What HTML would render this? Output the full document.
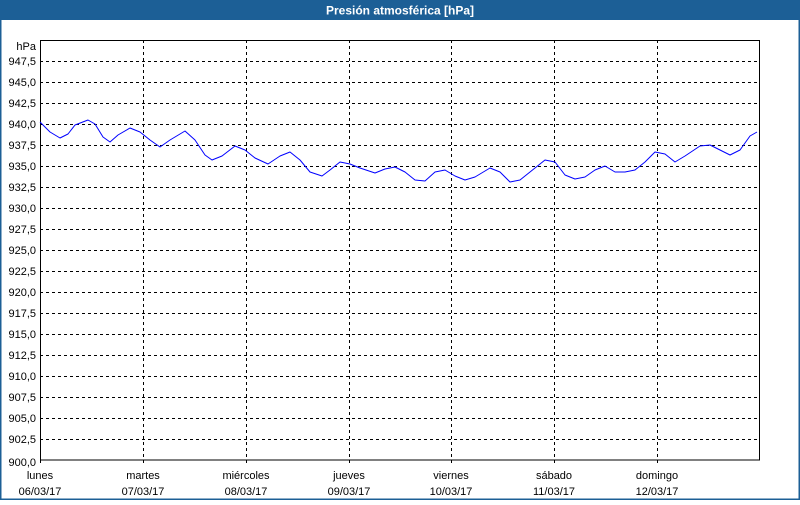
<!DOCTYPE html>
<html><head><meta charset="utf-8"><style>
body{margin:0;width:800px;height:500px;overflow:hidden;background:#fff;font-family:"Liberation Sans",sans-serif}
</style></head><body>
<svg width="800" height="500" xmlns="http://www.w3.org/2000/svg" font-family="Liberation Sans, sans-serif" font-size="11">
<rect x="0" y="0" width="800" height="500" fill="#fff"/>
<rect x="0" y="0" width="800" height="20" fill="#1c5f96"/>
<rect x="0" y="0" width="1.5" height="500" fill="#1c5f96"/>
<rect x="798.5" y="0" width="1.5" height="500" fill="#1c5f96"/>
<rect x="0" y="498.5" width="800" height="1.5" fill="#1c5f96"/>
<text x="400" y="14.5" fill="#fff" font-weight="bold" font-size="12" text-anchor="middle">Presión atmosférica [hPa]</text>
<g stroke="#000" stroke-width="1" stroke-dasharray="3,3">
<line x1="40" x2="760" y1="61.5" y2="61.5"/><line x1="40" x2="760" y1="82.5" y2="82.5"/><line x1="40" x2="760" y1="103.5" y2="103.5"/><line x1="40" x2="760" y1="124.5" y2="124.5"/><line x1="40" x2="760" y1="145.5" y2="145.5"/><line x1="40" x2="760" y1="166.5" y2="166.5"/><line x1="40" x2="760" y1="187.5" y2="187.5"/><line x1="40" x2="760" y1="208.5" y2="208.5"/><line x1="40" x2="760" y1="229.5" y2="229.5"/><line x1="40" x2="760" y1="250.5" y2="250.5"/><line x1="40" x2="760" y1="271.5" y2="271.5"/><line x1="40" x2="760" y1="292.5" y2="292.5"/><line x1="40" x2="760" y1="313.5" y2="313.5"/><line x1="40" x2="760" y1="334.5" y2="334.5"/><line x1="40" x2="760" y1="355.5" y2="355.5"/><line x1="40" x2="760" y1="376.5" y2="376.5"/><line x1="40" x2="760" y1="397.5" y2="397.5"/><line x1="40" x2="760" y1="418.5" y2="418.5"/><line x1="40" x2="760" y1="439.5" y2="439.5"/>
<line x1="143.5" x2="143.5" y1="40" y2="466"/><line x1="246.5" x2="246.5" y1="40" y2="466"/><line x1="349.5" x2="349.5" y1="40" y2="466"/><line x1="451.5" x2="451.5" y1="40" y2="466"/><line x1="554.5" x2="554.5" y1="40" y2="466"/><line x1="657.5" x2="657.5" y1="40" y2="466"/>
<line x1="40.5" x2="40.5" y1="460" y2="466"/>
</g>
<rect x="40.5" y="40.5" width="719" height="419.5" fill="none" stroke="#000" stroke-width="1"/>
<g text-anchor="end" fill="#000">
<text x="36" y="50">hPa</text>
<text x="36" y="65">947,5</text><text x="36" y="86">945,0</text><text x="36" y="107">942,5</text><text x="36" y="128">940,0</text><text x="36" y="149">937,5</text><text x="36" y="170">935,0</text><text x="36" y="191">932,5</text><text x="36" y="212">930,0</text><text x="36" y="233">927,5</text><text x="36" y="254">925,0</text><text x="36" y="275">922,5</text><text x="36" y="296">920,0</text><text x="36" y="317">917,5</text><text x="36" y="338">915,0</text><text x="36" y="359">912,5</text><text x="36" y="380">910,0</text><text x="36" y="401">907,5</text><text x="36" y="422">905,0</text><text x="36" y="443">902,5</text><text x="36" y="466">900,0</text>
</g>
<g text-anchor="middle" fill="#000">
<text x="40" y="479">lunes</text><text x="40" y="495">06/03/17</text>
<text x="143" y="479">martes</text><text x="143" y="495">07/03/17</text>
<text x="246" y="479">miércoles</text><text x="246" y="495">08/03/17</text>
<text x="349" y="479">jueves</text><text x="349" y="495">09/03/17</text>
<text x="451" y="479">viernes</text><text x="451" y="495">10/03/17</text>
<text x="554" y="479">sábado</text><text x="554" y="495">11/03/17</text>
<text x="657" y="479">domingo</text><text x="657" y="495">12/03/17</text>
</g>
<polyline fill="none" stroke="#0000ff" stroke-width="1" stroke-linejoin="round" points="40,122 50,132 60,138 68,134 75,125 88,120 95,124 103,137 110,142 118,135 130,128 140,132 150,140 160,147 170,140 185,131 195,140 205,155 212,160 222,156 235,146 245,150 255,158 268,164 280,156 290,152 300,160 310,172 322,176 330,170 340,162 350,164 360,168 375,173 385,169 395,167 405,172 415,180 425,181 435,172 445,170 455,176 465,180 475,177 490,168 500,172 510,182 520,180 530,172 545,160 555,162 565,175 575,179 585,177 595,170 605,166 615,172 625,172 635,170 645,162 655,152 665,154 675,162 685,156 700,146 710,145 720,150 730,155 740,150 750,136 757,132"/>
</svg>
</body></html>
